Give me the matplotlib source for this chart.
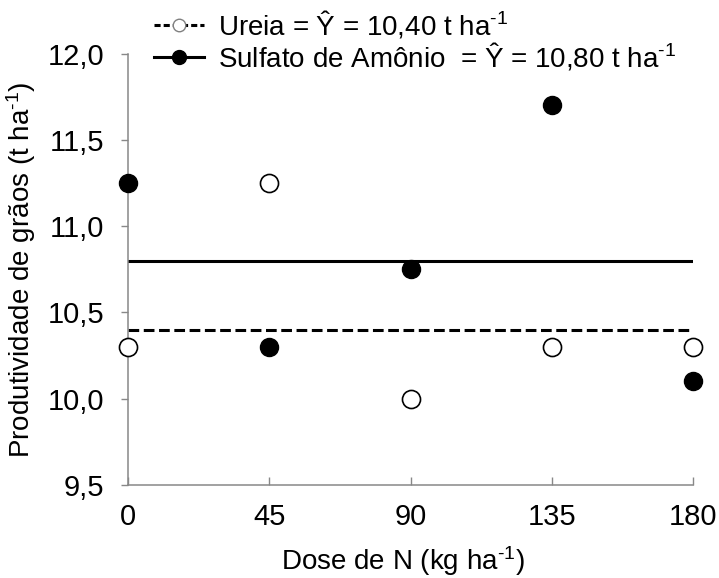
import matplotlib.pyplot as plt
from matplotlib.ticker import FuncFormatter

plt.rcParams['font.family'] = ['Liberation Sans', 'DejaVu Sans']
plt.rcParams['mathtext.fontset'] = 'custom'
plt.rcParams['mathtext.rm'] = 'Liberation Sans'
plt.rcParams['mathtext.it'] = 'Liberation Sans'

# data
doses = [0, 45, 90, 135, 180]
ureia = [10.3, 11.25, 10.0, 10.3, 10.3]
sulfato = [11.25, 10.3, 10.75, 11.7, 10.1]
ureia_mean = 10.40
sulfato_mean = 10.80

sup = r'$^{\mathrm{\text{-}1}}$'

fig = plt.figure(figsize=(7.19, 5.78), dpi=100)
ax = fig.add_axes([0.178, 0.161, 0.786, 0.746])

# mean lines
ax.plot([doses[0], doses[-1]], [ureia_mean] * 2, color='black', lw=2.2, ls=(0, (3.5, 1.5)))
ax.plot([doses[0], doses[-1]], [sulfato_mean] * 2, color='black', lw=2.2)

# points
ax.plot(doses, ureia, 'o', ms=13, mfc='white', mec='black', mew=1.2, clip_on=False, zorder=3)
ax.plot(doses, sulfato, 'o', ms=13, mfc='black', mec='black', clip_on=False, zorder=3)

# legend proxies
h1, = ax.plot([], [], color='black', lw=2.2, ls=(0, (2, 1)), marker='o', ms=9,
              mfc='white', mec='gray')
h2, = ax.plot([], [], color='black', lw=2.2, marker='o', ms=10, mfc='black')
fig.legend([h1, h2],
           ['Ureia = Ŷ = 10,40 t ha' + sup, 'Sulfato de Amônio  = Ŷ = 10,80 t ha' + sup],
           loc='upper left', bbox_to_anchor=(0.199, 1.004), frameon=False,
           fontsize=20, handlelength=1.8, handletextpad=0.5, labelspacing=0.0,
           borderaxespad=0)

ax.set_xlim(0, 180)
ax.set_ylim(9.5, 12.0)
ax.set_xticks(doses)
ax.set_yticks([9.5, 10.0, 10.5, 11.0, 11.5, 12.0])
ax.yaxis.set_major_formatter(FuncFormatter(lambda v, p: f'{v:.1f}'.replace('.', ',')))

for s in ['top', 'right']:
    ax.spines[s].set_visible(False)
for s in ['left', 'bottom']:
    ax.spines[s].set_color('#888888')
    ax.spines[s].set_linewidth(1.1)

ax.tick_params(axis='y', direction='out', length=5, width=1, color='#888888',
               labelsize=21, pad=12)
ax.tick_params(axis='x', direction='in', length=6, width=1, color='#888888',
               labelsize=21, pad=13)

ax.set_xlabel('Dose de N (kg ha' + sup + ')', fontsize=20)
ax.set_ylabel('Produtividade de grãos (t ha' + sup + ')', fontsize=20)
ax.xaxis.set_label_coords(0.486, -0.138)
ax.yaxis.set_label_coords(-0.16, 0.5)

fig.savefig('out.png', dpi=100)
